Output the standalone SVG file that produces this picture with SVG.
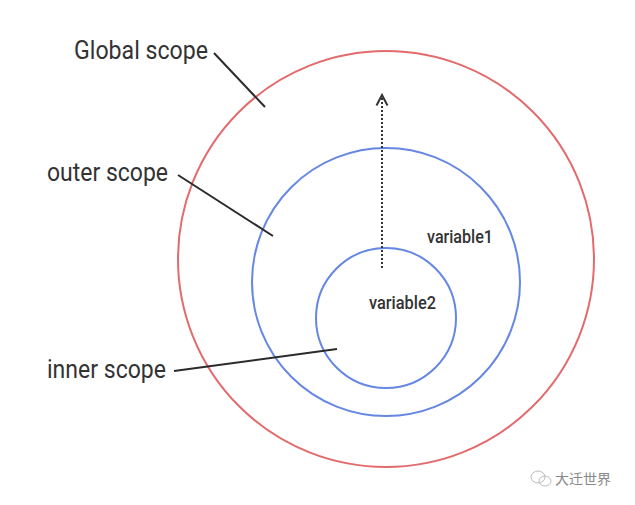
<svg xmlns="http://www.w3.org/2000/svg" width="635" height="505" viewBox="0 0 635 505">
<style>
.lbl{font-family:"Roboto","Liberation Sans",sans-serif;font-size:26px;fill:#333333}
.var{font-family:"Roboto","Liberation Sans",sans-serif;font-size:18px;font-weight:500;fill:#333333}
.red{fill:none;stroke:#e36b6d;stroke-width:2}
.blue{fill:none;stroke:#6687e2;stroke-width:2}
.lead{stroke:#2b2b2b;stroke-width:2;fill:none}
.wm{font-family:"Noto Sans CJK SC","Noto Sans",sans-serif;font-size:14px;fill:#888888}
</style>
<defs>
<marker id="chev" markerWidth="14" markerHeight="14" refX="12" refY="7" orient="auto" markerUnits="userSpaceOnUse">
<path d="M1.5,1.5 L12,7 L1.5,12.5" fill="none" stroke="#333333" stroke-width="2"/>
</marker>
</defs>
<rect width="635" height="505" fill="#ffffff"/>
<g id="global-scope">
<circle class="red" cx="386" cy="259" r="208"/>
</g>
<g id="outer-scope">
<circle class="blue" cx="386" cy="282" r="134"/>
<text class="var" x="427" y="243" textLength="66" lengthAdjust="spacingAndGlyphs">variable1</text>
</g>
<g id="inner-scope">
<circle class="blue" cx="386" cy="318" r="70"/>
<text class="var" x="369" y="309" textLength="67" lengthAdjust="spacingAndGlyphs">variable2</text>
</g>
<g id="label-global">
<text class="lbl" x="74" y="59" textLength="134" lengthAdjust="spacingAndGlyphs">Global scope</text>
</g>
<g id="label-outer">
<text class="lbl" x="47" y="181" textLength="121" lengthAdjust="spacingAndGlyphs">outer scope</text>
</g>
<g id="label-inner">
<text class="lbl" x="47" y="378" textLength="119" lengthAdjust="spacingAndGlyphs">inner scope</text>
</g>
<g id="connectors">
<line class="lead" x1="214" y1="53" x2="265" y2="107"/>
<line class="lead" x1="178" y1="175" x2="273" y2="236"/>
<line class="lead" x1="174" y1="371" x2="337" y2="349"/>
<line x1="382" y1="268" x2="382" y2="95" stroke="#333333" stroke-width="2" stroke-dasharray="2,2" marker-end="url(#chev)"/>
</g>
<g id="watermark">
<ellipse cx="538" cy="477" rx="7" ry="6" fill="none" stroke="#bbbbbb" stroke-width="1"/>
<ellipse cx="545" cy="481" rx="6" ry="5" fill="none" stroke="#bbbbbb" stroke-width="1"/>
<text class="wm" x="555" y="484">大迁世界</text>
</g>
</svg>
